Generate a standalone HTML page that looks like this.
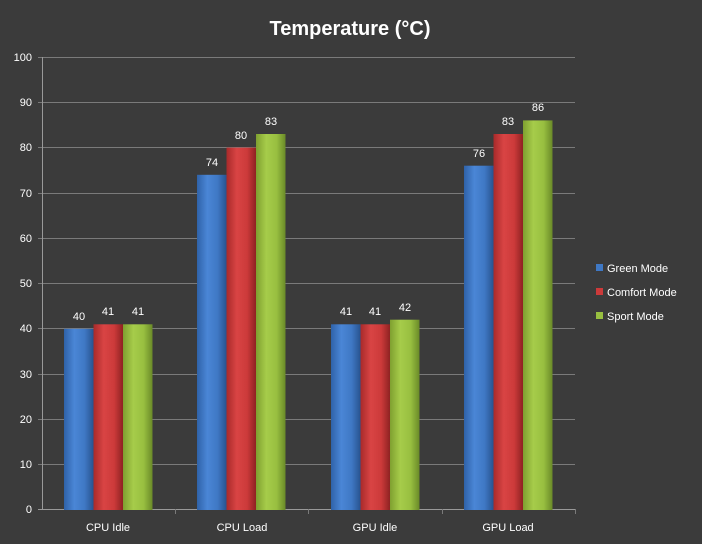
<!DOCTYPE html>
<html><head><style>
html,body{margin:0;padding:0;background:#3b3b3b;}
svg{display:block;font-family:"Liberation Sans",sans-serif;}
</style></head><body>
<svg width="702" height="544" viewBox="0 0 702 544">
<defs>
<linearGradient id="gb" x1="0" x2="1"><stop offset="0" stop-color="#2f62a8"/><stop offset="0.35" stop-color="#4a86d6"/><stop offset="0.7" stop-color="#3f78c4"/><stop offset="1" stop-color="#28538f"/></linearGradient>
<linearGradient id="gr" x1="0" x2="1"><stop offset="0" stop-color="#a82a2a"/><stop offset="0.35" stop-color="#d94444"/><stop offset="0.7" stop-color="#cc3a3a"/><stop offset="1" stop-color="#8e2222"/></linearGradient>
<linearGradient id="gg" x1="0" x2="1"><stop offset="0" stop-color="#7fa030"/><stop offset="0.35" stop-color="#a6cc4a"/><stop offset="0.7" stop-color="#98bf40"/><stop offset="1" stop-color="#6a8a28"/></linearGradient>
</defs>
<rect width="702" height="544" fill="#3b3b3b"/>
<text x="350" y="35" text-anchor="middle" fill="#fff" font-size="20" font-weight="bold">Temperature (°C)</text>
<g stroke="#7a7a7a" stroke-width="1">
<line x1="38" x2="575" y1="57.5" y2="57.5"/><line x1="38" x2="575" y1="102.5" y2="102.5"/><line x1="38" x2="575" y1="147.5" y2="147.5"/><line x1="38" x2="575" y1="193.5" y2="193.5"/><line x1="38" x2="575" y1="238.5" y2="238.5"/><line x1="38" x2="575" y1="283.5" y2="283.5"/><line x1="38" x2="575" y1="328.5" y2="328.5"/><line x1="38" x2="575" y1="374.5" y2="374.5"/><line x1="38" x2="575" y1="419.5" y2="419.5"/><line x1="38" x2="575" y1="464.5" y2="464.5"/>
<line x1="38" x2="575" y1="509.5" y2="509.5" stroke="#999"/>
<line x1="42.5" x2="42.5" y1="57" y2="510" stroke="#999"/>
<line x1="175.5" x2="175.5" y1="509" y2="514"/><line x1="308.5" x2="308.5" y1="509" y2="514"/><line x1="442.5" x2="442.5" y1="509" y2="514"/><line x1="575.5" x2="575.5" y1="509" y2="514"/>
</g>
<g fill="#fff" font-size="11" text-anchor="end">
<text x="32" y="61">100</text><text x="32" y="106">90</text><text x="32" y="151">80</text><text x="32" y="197">70</text><text x="32" y="242">60</text><text x="32" y="287">50</text><text x="32" y="332">40</text><text x="32" y="378">30</text><text x="32" y="423">20</text><text x="32" y="468">10</text><text x="32" y="513">0</text>
</g>
<g fill="#fff" font-size="11" text-anchor="middle">
<text x="108" y="531">CPU Idle</text><text x="242" y="531">CPU Load</text><text x="375" y="531">GPU Idle</text><text x="508" y="531">GPU Load</text>
</g>
<g id="bars">
<rect x="64" y="328.8" width="29.5" height="181.2" fill="url(#gb)"/>
<rect x="93.5" y="324.3" width="29.5" height="185.7" fill="url(#gr)"/>
<rect x="123" y="324.3" width="29.5" height="185.7" fill="url(#gg)"/>
<rect x="197" y="174.8" width="29.5" height="335.2" fill="url(#gb)"/>
<rect x="226.5" y="147.6" width="29.5" height="362.4" fill="url(#gr)"/>
<rect x="256" y="134" width="29.5" height="376" fill="url(#gg)"/>
<rect x="331" y="324.3" width="29.5" height="185.7" fill="url(#gb)"/>
<rect x="360.5" y="324.3" width="29.5" height="185.7" fill="url(#gr)"/>
<rect x="390" y="319.7" width="29.5" height="190.3" fill="url(#gg)"/>
<rect x="464" y="165.7" width="29.5" height="344.3" fill="url(#gb)"/>
<rect x="493.5" y="134" width="29.5" height="376" fill="url(#gr)"/>
<rect x="523" y="120.4" width="29.5" height="389.6" fill="url(#gg)"/>
</g>
<g fill="#fff" font-size="11" text-anchor="middle">
<text x="79" y="320">40</text><text x="108" y="315">41</text><text x="138" y="315">41</text>
<text x="212" y="166">74</text><text x="241" y="139">80</text><text x="271" y="125">83</text>
<text x="346" y="315">41</text><text x="375" y="315">41</text><text x="405" y="311">42</text>
<text x="479" y="157">76</text><text x="508" y="125">83</text><text x="538" y="111">86</text>
</g>
<rect x="596" y="264" width="7" height="7" fill="#3f78c4"/>
<rect x="596" y="288" width="7" height="7" fill="#cc3a3a"/>
<rect x="596" y="312" width="7" height="7" fill="#98bf40"/>
<g fill="#fff" font-size="11">
<text x="607" y="272">Green Mode</text><text x="607" y="296">Comfort Mode</text><text x="607" y="320">Sport Mode</text>
</g>
</svg>
</body></html>
